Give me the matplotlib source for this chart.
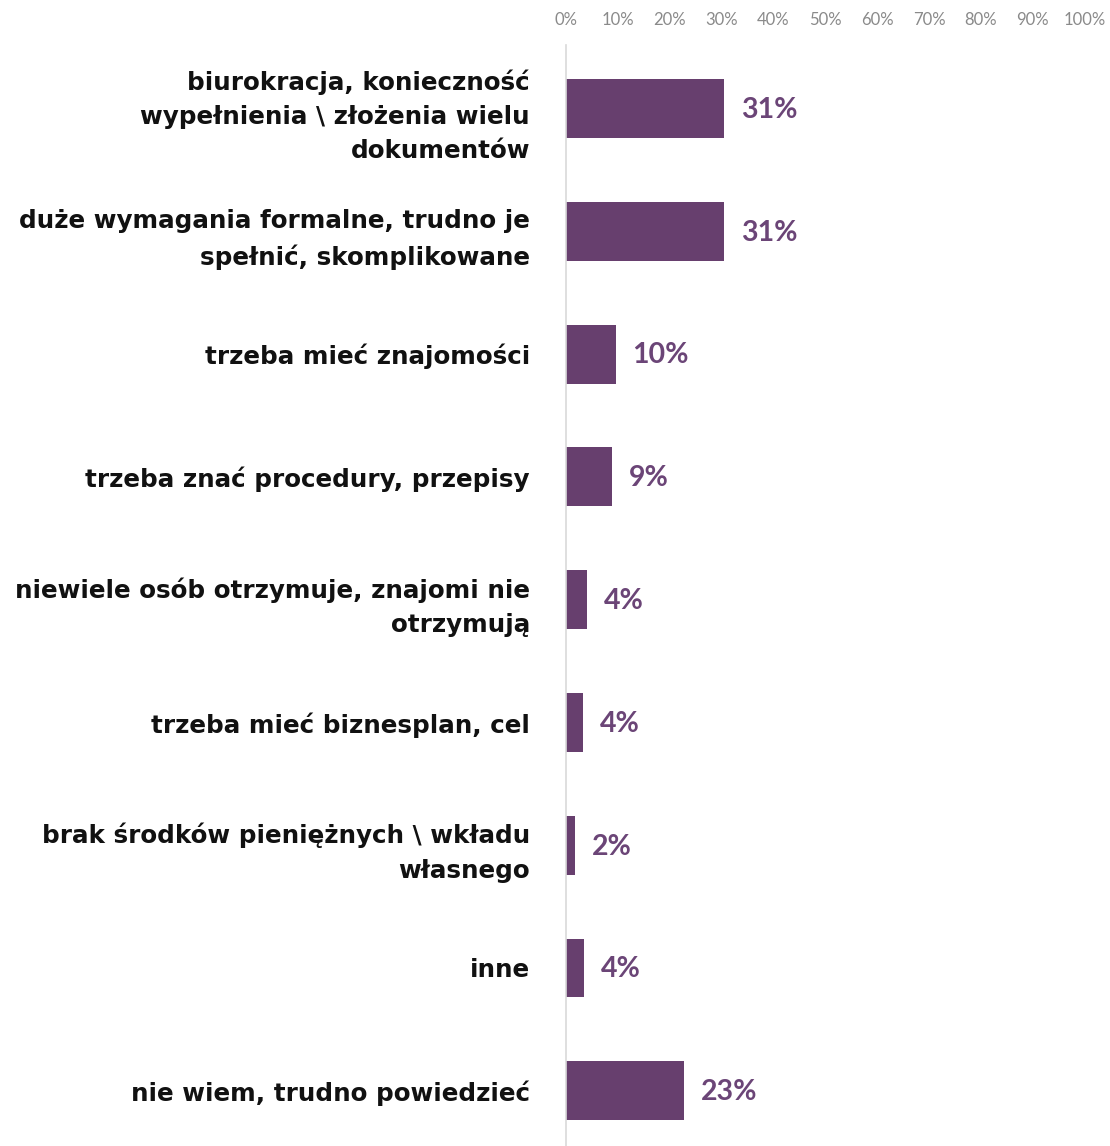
import matplotlib.pyplot as plt

categories = [
    "biurokracja, konieczność\nwypełnienia \\ złożenia wielu\ndokumentów",
    "duże wymagania formalne, trudno je\nspełnić, skomplikowane",
    "trzeba mieć znajomości",
    "trzeba znać procedury, przepisy",
    "niewiele osób otrzymuje, znajomi nie\notrzymują",
    "trzeba mieć biznesplan, cel",
    "brak środków pieniężnych \\ wkładu\nwłasnego",
    "inne",
    "nie wiem, trudno powiedzieć",
]
values = [30.5, 30.5, 9.6, 8.8, 4.0, 3.3, 1.8, 3.5, 22.7]
value_labels = ["31%", "31%", "10%", "9%", "4%", "4%", "2%", "4%", "23%"]
ticks = list(range(0, 101, 10))
tick_labels = [f"{t}%" for t in ticks]

bar_color = "#673f6e"
label_color = "#6b4577"

plt.rcParams['font.family'] = ['Lato', 'DejaVu Sans']

fig = plt.figure(figsize=(11.1, 11.46), dpi=100)
ax = fig.add_axes([0.510, 0.0, 0.467, 0.961])

pos = list(range(len(categories)))
ax.barh(pos, values, height=0.48, color=bar_color)

for p, v, lab in zip(pos, values, value_labels):
    ax.annotate(lab, (v, p), xytext=(12, -1), textcoords="offset points",
                va="center", ha="left", fontsize=20.5, fontweight="bold",
                color=label_color)

ax.set_xlim(0, 100)
ax.set_ylim(8.45, -0.52)
ax.set_yticks(pos)
ax.set_yticklabels(categories, fontsize=17.7, fontweight="bold", color="#111111",
                   family=["DejaVu Sans"], linespacing=1.55)
ax.tick_params(axis="y", length=0, pad=26)

ax.xaxis.tick_top()
ax.set_xticks(ticks)
ax.set_xticklabels(tick_labels, fontsize=12, color="#8a8a8a")
ax.tick_params(axis="x", length=0, pad=12)

for s in ["top", "right", "bottom"]:
    ax.spines[s].set_visible(False)
ax.spines["left"].set_color("#d9d9d9")
ax.spines["left"].set_linewidth(1.2)

fig.savefig("out.png", dpi=100)
